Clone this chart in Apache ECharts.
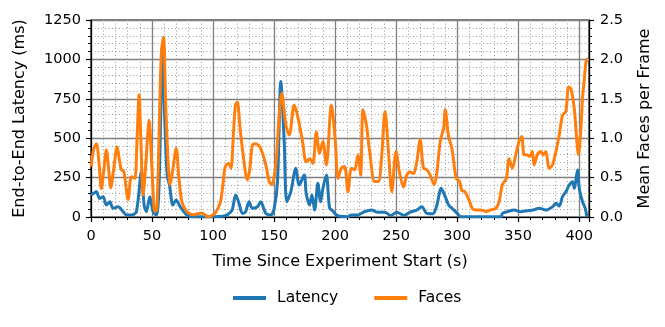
<!DOCTYPE html>
<html>
<head>
<meta charset="utf-8">
<script src="https://cdn.jsdelivr.net/npm/echarts@6/dist/echarts.min.js"></script>
<style>
  html, body { margin: 0; padding: 0; background: #fff; }
  #chart { width: 665px; height: 327px; }
</style>
</head>
<body>
<div id="chart"></div>
<script>
// latency series (ms)
var latencyTime = [0, 2, 4.4, 7.1, 9.9, 12.6, 15.4, 18.1, 22.2, 26.3, 29, 33.1, 37.2, 41.3, 43.5, 45.4, 48.2, 50.9, 53.6, 55.5, 57, 58.5, 60.5, 62.5, 64.3, 67.1, 69.8, 73.1, 77.2, 81.3, 90, 100, 108, 111.5, 115.6, 118.5, 121.3, 124, 126.7, 129.5, 132.2, 136.3, 139, 143.2, 147.3, 150.1, 152.8, 155.5, 158.3, 160.4, 163.7, 167.8, 170.6, 174.7, 176.3, 179, 181, 183.2, 185.9, 188.1, 190, 192.8, 195.5, 198, 201, 203.7, 210.5, 213.3, 218.5, 224.2, 229.7, 234.9, 240.7, 245.6, 250.5, 256.3, 261.2, 266.9, 271, 275.2, 280.1, 283.4, 286.9, 290.2, 293, 297.3, 300, 303, 336, 337, 341.1, 346.6, 352.1, 357.3, 362.2, 367.1, 372.6, 378.1, 380.9, 383.6, 386.3, 389.1, 391.8, 394.5, 395.9, 398.6, 400, 402.7, 404.9, 406.3];
var latencyValues = [140, 150, 160, 118, 129, 76, 97, 55, 65, 34, 13, 13, 34, 287, 76, 34, 129, 34, 13, 150, 600, 1080, 600, 260, 203, 76, 108, 65, 23, 3, 2, 2, 5, 13, 44, 140, 87, 23, 34, 97, 55, 65, 97, 23, 13, 55, 224, 859, 478, 97, 160, 309, 203, 266, 150, 76, 140, 44, 214, 97, 182, 266, 55, 40, 13, 5, 2, 13, 13, 34, 45, 30, 30, 10, 30, 10, 30, 44, 65, 23, 20, 76, 182, 129, 76, 44, 23, 2, 2, 23, 34, 44, 34, 40, 44, 55, 44, 65, 87, 70, 129, 160, 203, 224, 182, 298, 182, 97, 55, 0];

// mean faces per frame
var facesTime = [0.2, 2, 4.4, 6.5, 8.5, 10.5, 12.6, 14.5, 16.2, 18.5, 21.4, 23, 24.9, 26.9, 30.4, 33.1, 35.9, 37.5, 39.4, 41, 42.7, 45, 47.6, 50, 52.3, 54, 56, 57.7, 59.4, 61.5, 64.9, 67, 69.8, 72, 74.5, 78.6, 84, 87, 90.9, 93, 96.3, 99, 101.8, 106, 108, 110, 112.8, 114.7, 116.5, 118.3, 119.9, 122, 124, 128.1, 130, 132.2, 135, 139, 143.2, 146, 148.1, 151.4, 154.2, 156.3, 159.6, 162.4, 166.5, 169.2, 173.3, 176.3, 179, 181.8, 184.6, 187.3, 190, 192.8, 196.9, 200.2, 202.3, 205.1, 207.8, 210.5, 213.3, 216, 218.7, 220.9, 222.8, 225.6, 228.3, 232.4, 235.5, 238.2, 240.9, 243.7, 246.4, 249.9, 252.7, 256, 258.7, 261.4, 264.2, 266.9, 269.7, 272.4, 275.2, 277.9, 281.2, 283.4, 286.1, 288.9, 290.2, 293, 295.7, 299.2, 302, 303.7, 306.4, 309.6, 312.4, 315.2, 319.3, 323.4, 327.5, 331.6, 334.3, 337, 340.3, 342.5, 345.2, 348, 350.7, 352.9, 354.8, 356.7, 359.5, 361.6, 363, 365.7, 368.5, 370.4, 372.6, 375.4, 378.1, 380.9, 383.6, 386.3, 389.1, 391.2, 393.2, 395.9, 399.4, 401.4, 402.7, 404.1, 405.5, 406.5, 407.4];
var facesValues = [0.64, 0.85, 0.93, 0.7, 0.36, 0.6, 0.85, 0.6, 0.37, 0.6, 0.89, 0.75, 0.6, 0.58, 0.22, 0.51, 0.49, 0.9, 1.55, 0.9, 0.28, 0.7, 1.23, 0.6, 0.07, 0.1, 1.2, 2.1, 2.28, 1.3, 0.41, 0.6, 0.87, 0.5, 0.19, 0.07, 0.03, 0.04, 0.05, 0.03, 0.0, 0.02, 0.05, 0.19, 0.4, 0.64, 0.68, 0.62, 1.0, 1.42, 1.46, 1.15, 0.87, 0.47, 0.6, 0.91, 0.93, 0.87, 0.66, 0.45, 0.41, 0.66, 1.29, 1.57, 1.17, 1.04, 1.42, 1.29, 0.96, 0.7, 0.74, 0.68, 1.08, 0.81, 0.96, 0.66, 1.42, 0.96, 0.49, 0.62, 0.64, 0.32, 0.62, 0.6, 0.79, 0.53, 1.36, 1.17, 0.83, 0.45, 0.45, 0.79, 1.34, 0.83, 0.32, 0.83, 0.57, 0.38, 0.53, 0.57, 0.55, 0.7, 0.98, 0.62, 0.6, 0.53, 0.41, 0.57, 0.96, 1.13, 1.36, 1.02, 0.87, 0.49, 0.45, 0.34, 0.32, 0.22, 0.11, 0.09, 0.09, 0.07, 0.09, 0.11, 0.19, 0.41, 0.49, 0.74, 0.62, 0.79, 0.96, 1.02, 0.79, 0.79, 0.77, 0.83, 0.66, 0.79, 0.83, 0.79, 0.83, 0.62, 0.66, 0.83, 1.04, 1.29, 1.34, 1.65, 1.63, 1.38, 0.79, 1.13, 1.51, 1.74, 1.97, 2.0, 2.01];

var latencyTicks = [0, 250, 500, 750, 1000, 1250];
var facesTicks = [0, 0.5, 1.0, 1.5, 2.0, 2.5];
var timeTicks = [0, 50, 100, 150, 200, 250, 300, 350, 400];

function zip(xs, ys) {
    return xs.map(function (x, i) { return [x, ys[i]]; });
}

var font = 'DejaVu Sans';
var majorGrid = { show: true, lineStyle: { color: '#808080', width: 1.3 } };
var minorGrid = { show: true, lineStyle: { color: '#9a9a9a', width: 1, type: [1, 2.5] } };
var tickStyle = { color: '#000', width: 1.2 };

var myChart = echarts.init(document.getElementById('chart'));
var option = {
    animation: false,
    textStyle: { fontFamily: font },
    grid: {
        left: 91, right: 76, top: 20, bottom: 110,
        show: true, borderColor: '#000', borderWidth: 1.2
    },
    legend: {
        top: 285,
        left: 228,
        itemWidth: 33,
        itemHeight: 4,
        itemGap: 36,
        icon: 'rect',
        textStyle: { fontFamily: font, fontSize: 15.5, color: '#000', padding: [0, 0, 0, 6] },
        data: ['Latency', 'Faces']
    },
    xAxis: {
        type: 'value',
        min: timeTicks[0],
        max: 408,
        interval: 50,
        name: 'Time Since Experiment Start (s)',
        nameLocation: 'middle',
        nameGap: 37,
        nameTextStyle: { fontFamily: font, fontSize: 16, color: '#000' },
        axisLine: { show: true, onZero: false, lineStyle: { color: '#000', width: 1.2 } },
        axisTick: { show: true, length: 5, inside: false, lineStyle: tickStyle },
        minorTick: { show: true, splitNumber: 5, length: 3, lineStyle: { color: '#000', width: 1 } },
        axisLabel: { fontFamily: font, fontSize: 14.5, color: '#000', margin: 12, showMaxLabel: false },
        splitLine: majorGrid,
        minorSplitLine: minorGrid
    },
    yAxis: [{
        type: 'value',
        min: latencyTicks[0],
        max: latencyTicks[latencyTicks.length - 1],
        interval: 250,
        name: 'End-to-End Latency (ms)',
        nameLocation: 'middle',
        nameGap: 63,
        nameTextStyle: { fontFamily: font, fontSize: 16, color: '#000' },
        axisLine: { show: true, lineStyle: { color: '#000', width: 1.2 } },
        axisTick: { show: true, length: 5, lineStyle: tickStyle },
        minorTick: { show: true, splitNumber: 5, length: 3, lineStyle: { color: '#000', width: 1 } },
        axisLabel: {
            fontFamily: font, fontSize: 14.5, color: '#000', margin: 10,
            formatter: function (v) { return String(v); }
        },
        splitLine: majorGrid,
        minorSplitLine: minorGrid
    }, {
        type: 'value',
        min: facesTicks[0],
        max: facesTicks[facesTicks.length - 1],
        interval: 0.5,
        name: 'Mean Faces per Frame',
        nameLocation: 'middle',
        nameGap: 48,
        nameRotate: 90,
        nameTextStyle: { fontFamily: font, fontSize: 16, color: '#000' },
        axisLine: { show: true, lineStyle: { color: '#000', width: 1.2 } },
        axisTick: { show: true, length: 5, lineStyle: tickStyle },
        minorTick: { show: true, splitNumber: 5, length: 3, lineStyle: { color: '#000', width: 1 } },
        axisLabel: {
            fontFamily: font, fontSize: 14.5, color: '#000', margin: 11,
            formatter: function (v) { return v.toFixed(1); }
        },
        splitLine: { show: false }
    }],
    series: [{
        name: 'Latency',
        type: 'line',
        yAxisIndex: 0,
        data: zip(latencyTime, latencyValues),
        showSymbol: false,
        smooth: 0.3,
        color: '#1f77b4',
        lineStyle: { width: 3, color: '#1f77b4' }
    }, {
        name: 'Faces',
        type: 'line',
        yAxisIndex: 1,
        data: zip(facesTime, facesValues),
        showSymbol: false,
        smooth: 0.3,
        color: '#ff7f0e',
        lineStyle: { width: 3, color: '#ff7f0e' }
    }]
};
myChart.setOption(option);
</script>
</body>
</html>
